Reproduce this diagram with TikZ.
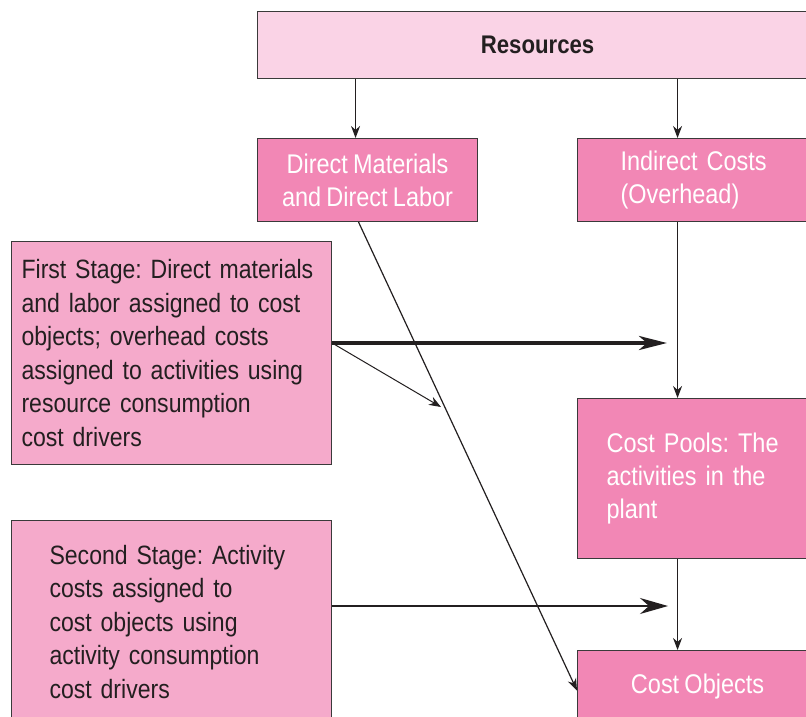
\documentclass[tikz,border=0pt]{standalone}
\usepackage{fontspec}
\setmainfont[FakeStretch=0.87,WordSpace=0.8]{Liberation Sans}
\usepackage{xcolor}
\usetikzlibrary{arrows.meta}
\frenchspacing

\definecolor{reslight}{HTML}{FAD3E6}
\definecolor{pooldark}{HTML}{F287B5}
\definecolor{stagepink}{HTML}{F5AACB}
\definecolor{edgegray}{HTML}{3A3A3A}
\definecolor{inkdark}{HTML}{231F20}

\begin{document}
\begin{tikzpicture}[x=1pt,y=-1pt,
  basebox/.style={draw=edgegray,line width=1.1pt,rectangle,anchor=north west,inner ysep=0pt},
  resbox/.style={basebox,fill=reslight,text=inkdark,font=\fontsize{25.5}{30}\selectfont\bfseries},
  costbox/.style={basebox,fill=pooldark,text=white,font=\fontsize{27}{33}\selectfont},
  stagebox/.style={basebox,fill=stagepink,text=inkdark,align=left,font=\fontsize{26.5}{33.5}\selectfont},
  arr/.style={draw=inkdark,line width=1.2pt,-{Stealth[length=12pt,width=9pt]}},
  bigarr/.style={draw=inkdark,line width=1.3pt,-{Stealth[length=28pt,width=16pt,inset=9pt]}},
  thickarr/.style={draw=inkdark,line width=4pt,-{Stealth[length=28pt,width=14pt,inset=8pt]}}]
\useasboundingbox (0,0) rectangle (806,716);
\clip (0,0) rectangle (806,716);
\fill[white] (0,0) rectangle (806,716);
% Boxes
\node[resbox,minimum width=560pt,minimum height=67pt] (res) at (257,11) {Resources};
\node[costbox,align=center,minimum width=220pt,minimum height=83pt] (dm) at (257,138)
  {Direct Materials\\and Direct Labor};
\node[costbox,align=left,text width=154pt,inner xsep=43pt,minimum height=83pt] (ind) at (577,138)
  {Indirect Costs\\(Overhead)};
\node[stagebox,text width=300pt,inner xsep=10pt,minimum height=223pt] (first) at (11,241)
  {First Stage: Direct materials\\and labor assigned to cost\\objects; overhead costs\\assigned to activities using\\resource consumption\\cost drivers};
\node[costbox,align=left,text width=182pt,inner xsep=29pt,minimum height=160pt] (pool) at (577,398)
  {Cost Pools: The\\activities in the\\plant};
\node[stagebox,text width=244pt,inner xsep=38pt,minimum height=202pt] (second) at (11,520)
  {Second Stage: Activity\\costs assigned to\\cost objects using\\activity consumption\\cost drivers};
\node[costbox,align=center,minimum width=240pt,minimum height=72pt] (obj) at (577,650) {Cost Objects};
% Free ends of the stage arrows
\coordinate (firsttip) at (667,343);
\coordinate (splittip) at (441,407);
\coordinate (secondtip) at (668,606);
% Connectors
\draw[arr] ([xshift=-12pt]dm.north |- res.south) -- ([xshift=-12pt]dm.north);
\draw[arr] ([xshift=-20pt]ind.north |- res.south) -- ([xshift=-20pt]ind.north);
\draw[arr] ([xshift=-20pt]ind.south) -- ([xshift=-20pt]pool.north);
\draw[arr] ([xshift=-20pt]pool.south) -- ([xshift=-20pt]obj.north);
\draw[arr] ([xshift=-9pt]dm.south) -- ([yshift=-4pt]obj.west);
\draw[thickarr] (first.east |- firsttip) -- (firsttip);
\draw[arr,line width=1pt] (first.east |- firsttip) -- (splittip);
\draw[bigarr] (second.east |- secondtip) -- (secondtip);
\end{tikzpicture}
\end{document}
